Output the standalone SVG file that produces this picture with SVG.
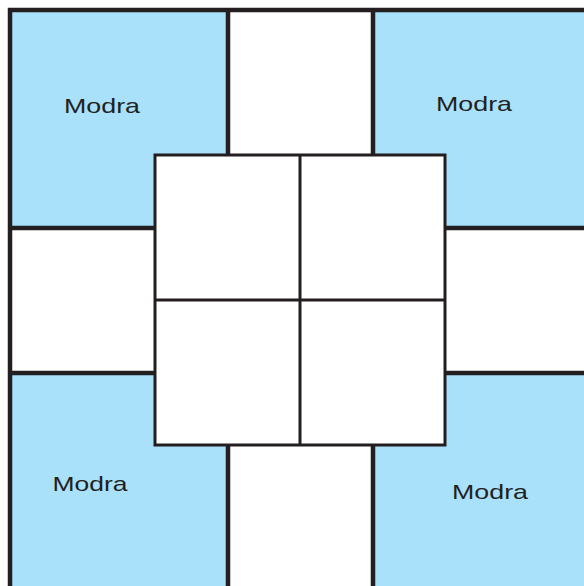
<svg xmlns="http://www.w3.org/2000/svg" width="584" height="586" viewBox="0 0 584 586">
<style>
.blue{fill:#A9E0FA;stroke:none}
.wall{fill:none;stroke:#231F20;stroke-width:4.5;stroke-linecap:square}
.inner{fill:#FFFFFF;stroke:#231F20;stroke-width:3}
.lbl{font-family:"Century Gothic","URW Gothic","Liberation Sans",sans-serif;font-size:21px;fill:#231F20;text-anchor:middle}
</style>
<rect width="584" height="586" fill="#FFFFFF"/>
<g id="modra-tl">
<polygon class="blue" points="10,10 228,10 228,155 155,155 155,228 10,228"/>
<text class="lbl" x="102" y="113" textLength="76" lengthAdjust="spacingAndGlyphs">Modra</text>
</g>
<g id="modra-tr">
<polygon class="blue" points="373,10 584,10 584,228 445,228 445,155 373,155"/>
<text class="lbl" x="474" y="111" textLength="76" lengthAdjust="spacingAndGlyphs">Modra</text>
</g>
<g id="modra-bl">
<polygon class="blue" points="10,373 155,373 155,445 228,445 228,586 10,586"/>
<text class="lbl" x="90" y="491" textLength="75" lengthAdjust="spacingAndGlyphs">Modra</text>
</g>
<g id="modra-br">
<polygon class="blue" points="445,373 584,373 584,586 373,586 373,445 445,445"/>
<text class="lbl" x="490" y="499" textLength="76" lengthAdjust="spacingAndGlyphs">Modra</text>
</g>
<g id="walls">
<path class="wall" d="M10,10 H590 M10,10 V590 M228,10 V155 M373,10 V155 M228,445 V590 M373,445 V590 M10,228 H155 M10,373 H155 M445,228 H590 M445,373 H590"/>
</g>
<g id="center-square">
<rect class="inner" x="155" y="155" width="290" height="290"/>
<path class="inner" d="M300,155 V445 M155,300 H445"/>
</g>
</svg>
